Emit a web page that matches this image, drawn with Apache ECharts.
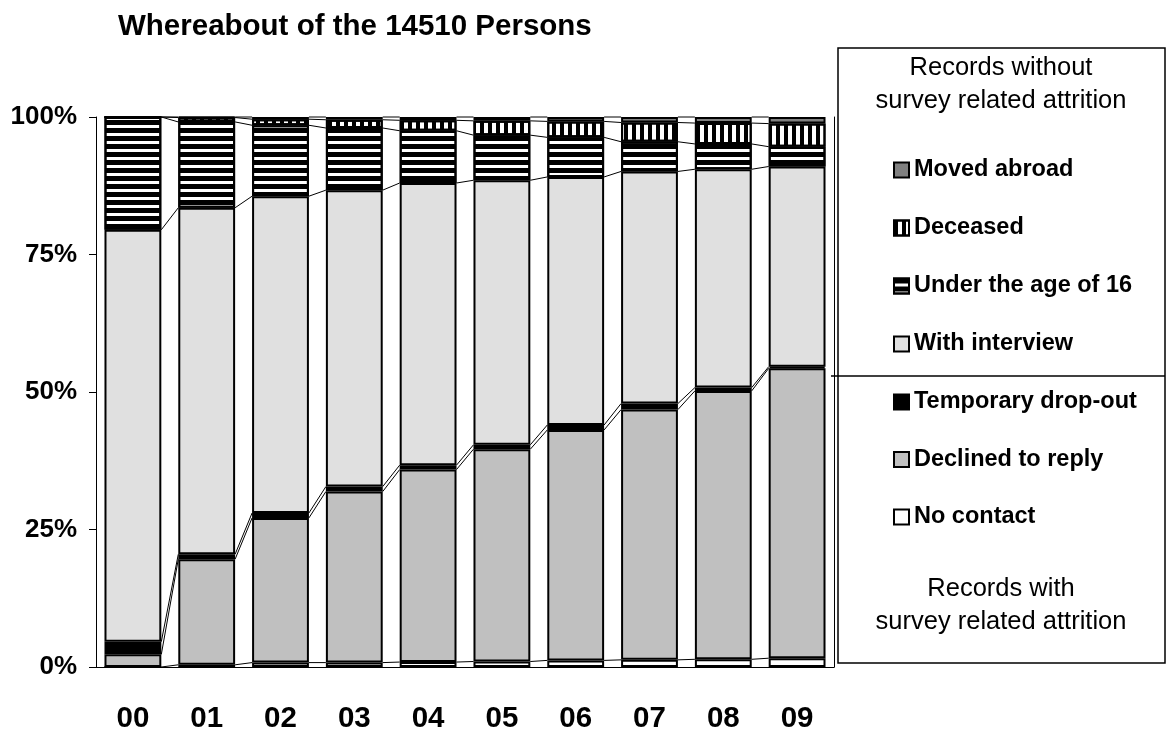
<!DOCTYPE html>
<html>
<head>
<meta charset="utf-8">
<script src="https://cdn.jsdelivr.net/npm/echarts@6/dist/echarts.min.js"></script>
<style>
  html, body { margin: 0; padding: 0; background: #fff; }
  #chart { width: 1166px; height: 731px; }
</style>
</head>
<body>
<div id="chart"></div>
<script>
// waves 2000..2009, shares in percent of the 14510 persons
const years = ["00", "01", "02", "03", "04", "05", "06", "07", "08", "09"];
const noContact   = [0,    0.4,  0.8,  0.8,  0.9,  1.0,  1.2,  1.3,  1.4,  1.6];
const declined    = [2.3, 19.2, 26.3, 31.1, 35.0, 38.6, 41.9, 45.5, 48.8, 52.7];
const dropOut     = [2.3,  0.9,  0.9,  0.9,  0.8,  0.8,  0.9,  1.1,  0.6,  0.3];
const interview   = [74.9, 63.0, 57.6, 53.9, 51.3, 48.1, 45.1, 42.2, 39.7, 36.4];
const under16     = [20.5, 15.6, 12.9, 11.3, 9.5,  8.2,  7.2,  5.4,  4.6,  3.6];
const deceased    = [0,    0.8,  1.1,  1.5,  1.9,  2.6,  2.9,  3.5,  3.8,  4.2];
const movedAbroad = [0,    0.1,  0.4,  0.5,  0.6,  0.7,  0.8,  1.0,  1.1,  1.2];
const yTicks = [0, 25, 50, 75, 100];

const font = "'Liberation Sans', Arial, sans-serif";
const barWidthRatio = 0.77;

const layers = [
  { name: "No contact", data: noContact, color: "#ffffff" },
  { name: "Declined to reply", data: declined, color: "#c0c0c0" },
  { name: "Temporary drop-out", data: dropOut, color: "#000000" },
  { name: "With interview", data: interview, color: "#e0e0e0" },
  {
    name: "Under the age of 16", data: under16, color: "#ffffff",
    decal: { symbol: "rect", symbolSize: 1, color: "#000", dashArrayX: [1, 0], dashArrayY: [4.6, 3] },
  },
  {
    name: "Deceased", data: deceased, color: "#ffffff",
    decal: { symbol: "rect", symbolSize: 1, color: "#000", dashArrayX: [3.5, 3.5], dashArrayY: [1, 0] },
  },
  { name: "Moved abroad", data: movedAbroad, color: "#808080" },
];

// series lines: join the top of every layer from one bar to the next
const connectorData = [];
const running = years.map(() => 0);
layers.forEach((layer) => {
  layer.data.forEach((v, i) => (running[i] += v));
  for (let i = 0; i < years.length - 1; i++) {
    connectorData.push([i, running[i], running[i + 1]]);
  }
});

const chart = echarts.init(document.getElementById("chart"));

const barSeries = layers.map((layer) => ({
  name: layer.name,
  type: "bar",
  stack: "all",
  barWidth: barWidthRatio * 100 + "%",
  data: layer.data,
  itemStyle: {
    color: layer.color,
    borderColor: "#000",
    borderWidth: 2,
    decal: layer.decal,
  },
}));

const legendText = { fontFamily: font, fontSize: 23.5, fontWeight: "bold", color: "#000", lineHeight: 24 };

const option = {
  animation: false,
  backgroundColor: "#fff",
  title: {
    text: "Whereabout of the 14510 Persons",
    left: 118,
    top: 12,
    padding: 0,
    textStyle: { fontFamily: font, fontSize: 29.5, fontWeight: "bold", color: "#000" },
  },
  grid: { left: 96, right: 332, top: 117, bottom: 64, outerBoundsMode: "none", containLabel: false },
  legend: [
    {
      data: ["Moved abroad", "Deceased", "Under the age of 16", "With interview"],
      orient: "vertical",
      left: 893,
      top: 158,
      padding: 0,
      itemWidth: 15,
      itemHeight: 15,
      itemGap: 34,
      icon: "rect",
      selectedMode: false,
      textStyle: legendText,
    },
    {
      data: ["Temporary drop-out", "Declined to reply", "No contact"],
      orient: "vertical",
      left: 893,
      top: 390,
      padding: 0,
      itemWidth: 15,
      itemHeight: 15,
      itemGap: 33.5,
      icon: "rect",
      selectedMode: false,
      textStyle: legendText,
    },
  ],
  xAxis: {
    type: "category",
    data: years,
    axisLine: { lineStyle: { color: "#000", width: 1 } },
    axisTick: { show: false },
    axisLabel: { margin: 37, fontFamily: font, fontSize: 29.5, fontWeight: "bold", color: "#000" },
  },
  yAxis: [
    {
      type: "value",
      min: yTicks[0],
      max: yTicks[yTicks.length - 1],
      interval: 25,
      axisLine: { show: true, lineStyle: { color: "#000", width: 1 } },
      axisTick: { show: true, length: 7, lineStyle: { color: "#000" } },
      splitLine: { show: false },
      axisLabel: {
        margin: 19,
        formatter: "{value}%",
        fontFamily: font, fontSize: 26, fontWeight: "bold", color: "#000",
      },
    },
    {
      type: "value",
      position: "right",
      min: 0,
      max: 100,
      axisLine: { show: true, lineStyle: { color: "#000", width: 1 } },
      axisTick: { show: false },
      axisLabel: { show: false },
      splitLine: { show: false },
    },
  ],
  series: barSeries.concat([
    {
      type: "custom",
      silent: true,
      data: connectorData,
      encode: { x: 0, y: [1, 2] },
      z: 1,
      renderItem: (params, api) => {
        const i = api.value(0);
        const p1 = api.coord([i, api.value(1)]);
        const p2 = api.coord([i + 1, api.value(2)]);
        const half = (api.size([1, 0])[0] * barWidthRatio) / 2;
        return {
          type: "line",
          shape: { x1: p1[0] + half, y1: p1[1], x2: p2[0] - half, y2: p2[1] },
          style: { stroke: "#000", lineWidth: 1 },
        };
      },
    },
  ]),
  graphic: [
    {
      type: "rect",
      shape: { x: 838, y: 48, width: 327, height: 615 },
      style: { fill: "none", stroke: "#000", lineWidth: 1.5 },
      z: 0,
    },
    {
      type: "line",
      shape: { x1: 831, y1: 376, x2: 1165, y2: 376 },
      style: { stroke: "#000", lineWidth: 1.5 },
    },
    {
      type: "text",
      x: 1001,
      y: 84,
      style: {
        text: "Records without\nsurvey related attrition",
        fontFamily: font, fontSize: 25.5, lineHeight: 33,
        fill: "#000", align: "center", verticalAlign: "middle",
      },
    },
    {
      type: "text",
      x: 1001,
      y: 605,
      style: {
        text: "Records with\nsurvey related attrition",
        fontFamily: font, fontSize: 25.5, lineHeight: 33,
        fill: "#000", align: "center", verticalAlign: "middle",
      },
    },
  ],
};

chart.setOption(option);
</script>
</body>
</html>
